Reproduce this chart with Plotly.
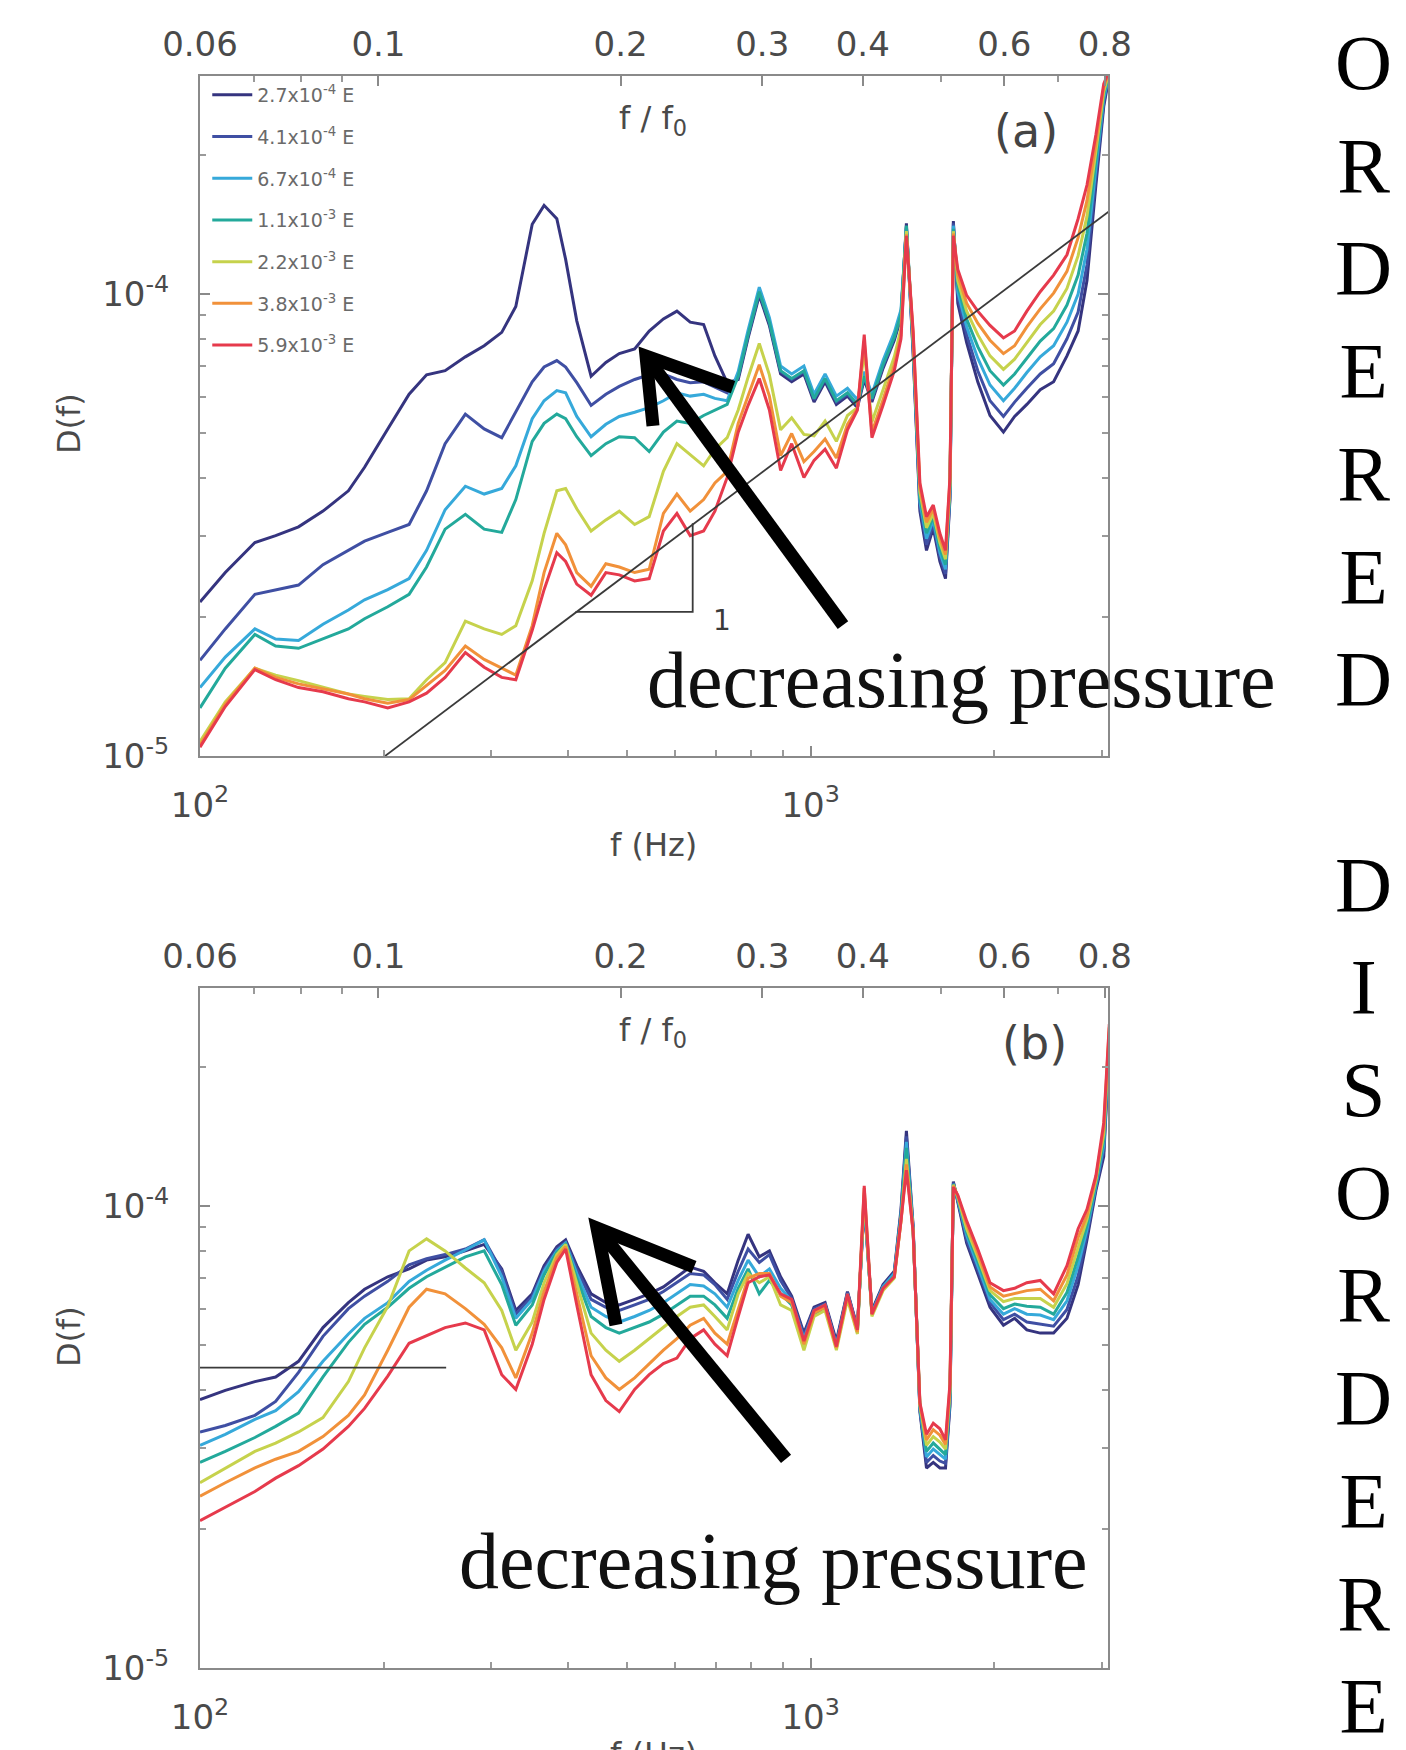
import math
import plotly.graph_objects as go

# ---------------- data ----------------
f_hz = [100, 110, 123, 133, 145, 159, 175, 186, 203, 220, 235, 252, 272, 292, 312, 329, 350, 366, 384, 397,
        414, 437, 462, 486, 515, 544, 574, 604, 635, 668, 697, 730, 761, 790, 824, 856, 893, 931, 975, 1013,
        1056, 1102, 1149, 1193, 1224, 1260, 1314, 1371, 1406, 1435, 1472, 1510, 1548, 1588, 1628, 1663, 1691, 1713, 1742, 1801,
        1878, 1967, 2069, 2158, 2260, 2377, 2500, 2629, 2742, 2835, 2932, 3020, 3084]

series_labels = ["2.7x10<sup>-4</sup> E", "4.1x10<sup>-4</sup> E", "6.7x10<sup>-4</sup> E", "1.1x10<sup>-3</sup> E",
                 "2.2x10<sup>-3</sup> E", "3.8x10<sup>-3</sup> E", "5.9x10<sup>-3</sup> E"]
series_colors = ["#35347f", "#3f4fa3", "#36a9da", "#23a99b", "#c6d24c", "#f1913a", "#e63a4c"]

# panel (a): log10 D(f)
logD_a_27e4 = [-4.667,-4.603,-4.538,-4.523,-4.504,-4.470,-4.426,-4.375,-4.292,-4.217,
               -4.175,-4.166,-4.136,-4.112,-4.083,-4.027,-3.849,-3.808,-3.837,-3.925,
               -4.058,-4.178,-4.148,-4.129,-4.119,-4.080,-4.054,-4.037,-4.061,-4.066,
               -4.134,-4.192,
               -4.185,-4.095,-4.003,-4.068,-4.173,-4.190,-4.173,-4.234,-4.190,-4.239,-4.221,-4.246,-4.185,-4.234,-4.161,-4.100,-4.051,-3.847,
               -4.129,-4.470,-4.555,-4.506,-4.579,-4.616,-4.445,-3.842,
               -4.020,-4.105,-4.190,-4.263,-4.299,-4.265,-4.239,-4.207,-4.190,-4.134,-4.080,-3.971,-3.764,-3.594,-3.526]
logD_a_41e4 = [-4.793,-4.725,-4.650,-4.640,-4.630,-4.586,-4.555,-4.535,-4.516,-4.499,
               -4.426,-4.324,-4.260,-4.292,-4.311,-4.256,-4.190,-4.158,-4.144,-4.158,
               -4.192,-4.241,-4.217,-4.200,-4.185,-4.175,-4.173,-4.185,-4.192,-4.190,
               -4.202,-4.214,
               -4.180,-4.090,-3.998,-4.063,-4.168,-4.185,-4.168,-4.229,-4.185,-4.234,-4.217,-4.241,-4.180,-4.229,-4.156,-4.095,-4.046,-3.854,
               -4.122,-4.460,-4.543,-4.499,-4.569,-4.606,-4.438,-3.847,
               -4.007,-4.088,-4.166,-4.231,-4.265,-4.234,-4.204,-4.173,-4.151,-4.097,-4.039,-3.937,-3.747,-3.586,-3.523]
logD_a_67e4 = [-4.852,-4.786,-4.725,-4.747,-4.750,-4.715,-4.684,-4.662,-4.640,-4.616,
               -4.555,-4.467,-4.416,-4.433,-4.421,-4.372,-4.270,-4.231,-4.209,-4.214,
               -4.265,-4.309,-4.282,-4.265,-4.256,-4.246,-4.231,-4.214,-4.221,-4.217,
               -4.226,-4.231,
               -4.168,-4.078,-3.985,-4.051,-4.156,-4.173,-4.156,-4.217,-4.173,-4.221,-4.204,-4.229,-4.168,-4.217,-4.144,-4.083,-4.034,-3.857,
               -4.112,-4.450,-4.530,-4.489,-4.560,-4.596,-4.428,-3.852,
               -3.995,-4.071,-4.139,-4.197,-4.231,-4.204,-4.170,-4.136,-4.112,-4.061,-4.000,-3.903,-3.728,-3.577,-3.523]
logD_a_11e3 = [-4.896,-4.810,-4.737,-4.762,-4.767,-4.747,-4.725,-4.703,-4.677,-4.650,
               -4.591,-4.509,-4.477,-4.509,-4.516,-4.445,-4.319,-4.280,-4.260,-4.270,
               -4.309,-4.350,-4.324,-4.309,-4.311,-4.341,-4.299,-4.275,-4.280,-4.263,
               -4.251,-4.239,
               -4.178,-4.088,-3.995,-4.061,-4.166,-4.183,-4.166,-4.226,-4.183,-4.231,-4.214,-4.239,-4.178,-4.226,-4.153,-4.093,-4.044,-3.852,
               -4.105,-4.440,-4.518,-4.482,-4.550,-4.586,-4.421,-3.859,
               -3.983,-4.054,-4.114,-4.166,-4.197,-4.173,-4.139,-4.102,-4.075,-4.024,-3.959,-3.869,-3.711,-3.569,-3.521]
logD_a_22e3 = [-4.969,-4.883,-4.810,-4.825,-4.837,-4.852,-4.866,-4.871,-4.878,-4.876,
               -4.835,-4.798,-4.708,-4.725,-4.737,-4.718,-4.621,-4.518,-4.426,-4.421,
               -4.465,-4.513,-4.489,-4.470,-4.499,-4.482,-4.384,-4.324,-4.348,-4.372,
               -4.336,-4.311,
               -4.251,-4.180,-4.107,-4.175,-4.294,-4.268,-4.304,-4.307,-4.275,-4.319,-4.263,-4.246,-4.124,-4.277,-4.207,-4.136,-4.075,-3.864,
               -4.097,-4.428,-4.506,-4.475,-4.538,-4.574,-4.414,-3.864,
               -3.971,-4.037,-4.088,-4.134,-4.163,-4.141,-4.105,-4.066,-4.037,-3.988,-3.917,-3.832,-3.691,-3.562,-3.518]
logD_a_38e3 = [-4.976,-4.888,-4.810,-4.830,-4.844,-4.854,-4.866,-4.876,-4.886,-4.878,
               -4.847,-4.815,-4.762,-4.791,-4.810,-4.825,-4.718,-4.603,-4.518,-4.543,
               -4.603,-4.633,-4.584,-4.591,-4.603,-4.596,-4.475,-4.433,-4.470,-4.445,
               -4.409,-4.384,
               -4.280,-4.219,-4.153,-4.221,-4.350,-4.302,-4.363,-4.341,-4.314,-4.355,-4.282,-4.248,-4.102,-4.299,-4.229,-4.153,-4.090,-3.871,
               -4.088,-4.419,-4.494,-4.465,-4.528,-4.564,-4.404,-3.869,
               -3.959,-4.020,-4.063,-4.100,-4.129,-4.112,-4.071,-4.032,-3.998,-3.951,-3.878,-3.798,-3.674,-3.552,-3.518]
logD_a_59e3 = [-4.981,-4.893,-4.813,-4.835,-4.852,-4.861,-4.876,-4.883,-4.896,-4.883,
               -4.864,-4.830,-4.776,-4.808,-4.830,-4.835,-4.728,-4.640,-4.560,-4.579,
               -4.628,-4.652,-4.603,-4.608,-4.621,-4.616,-4.513,-4.475,-4.523,-4.513,
               -4.470,-4.397,
               -4.299,-4.241,-4.183,-4.251,-4.382,-4.324,-4.397,-4.360,-4.336,-4.377,-4.294,-4.251,-4.088,-4.311,-4.241,-4.166,-4.097,-3.874,
               -4.080,-4.409,-4.482,-4.457,-4.518,-4.555,-4.397,-3.874,
               -3.947,-4.003,-4.037,-4.068,-4.095,-4.080,-4.037,-3.995,-3.959,-3.915,-3.837,-3.764,-3.655,-3.545,-3.516]

# panel (b): log10 D(f)
logD_b_27e4 = [-4.419,-4.399,-4.380,-4.370,-4.336,-4.263,-4.209,-4.180,-4.153,-4.136,
               -4.117,-4.110,-4.097,-4.083,-4.136,-4.226,-4.190,-4.129,-4.088,-4.073,
               -4.129,-4.190,-4.209,-4.214,-4.202,-4.190,-4.175,-4.153,-4.132,-4.141,
               -4.166,-4.190,-4.117,-4.061,
               -4.110,-4.097,-4.153,-4.195,-4.275,-4.219,-4.209,-4.292,-4.185,-4.263,-3.995,-4.226,-4.170,-4.141,-4.007,-3.837,-4.044,-4.445,
               -4.567,-4.555,-4.567,-4.567,-4.433,-3.947,-3.990,
               -4.080,-4.146,-4.219,-4.258,-4.243,-4.268,-4.275,-4.275,-4.243,-4.170,-4.073,-3.966,-3.893,-3.655]
logD_b_41e4 = [-4.489,-4.475,-4.453,-4.423,-4.360,-4.282,-4.222,-4.195,-4.163,-4.127,
               -4.114,-4.105,-4.093,-4.073,-4.141,-4.234,-4.195,-4.136,-4.093,-4.078,
               -4.136,-4.202,-4.219,-4.226,-4.214,-4.202,-4.185,-4.166,-4.146,-4.149,
               -4.170,-4.202,-4.141,-4.093,
               -4.122,-4.105,-4.161,-4.200,-4.280,-4.222,-4.212,-4.297,-4.187,-4.265,-3.990,-4.229,-4.173,-4.144,-4.015,-3.849,-4.049,-4.441,
               -4.555,-4.540,-4.552,-4.557,-4.426,-3.949,-3.988,
               -4.073,-4.136,-4.209,-4.246,-4.234,-4.251,-4.256,-4.260,-4.224,-4.151,-4.063,-3.961,-3.881,-3.647]
logD_b_67e4 = [-4.518,-4.494,-4.462,-4.443,-4.402,-4.336,-4.277,-4.243,-4.209,-4.163,
               -4.139,-4.117,-4.095,-4.073,-4.153,-4.243,-4.202,-4.141,-4.097,-4.080,
               -4.146,-4.219,-4.239,-4.251,-4.239,-4.226,-4.209,-4.190,-4.170,-4.173,
               -4.190,-4.219,-4.161,-4.117,
               -4.153,-4.136,-4.178,-4.205,-4.287,-4.226,-4.214,-4.302,-4.190,-4.268,-3.986,-4.231,-4.175,-4.146,-4.020,-3.861,-4.051,-4.438,
               -4.543,-4.526,-4.538,-4.548,-4.416,-3.952,-3.986,
               -4.063,-4.129,-4.202,-4.234,-4.222,-4.234,-4.236,-4.246,-4.205,-4.129,-4.051,-3.956,-3.869,-3.638]
logD_b_11e3 = [-4.555,-4.531,-4.501,-4.477,-4.448,-4.370,-4.295,-4.256,-4.219,-4.178,
               -4.153,-4.132,-4.110,-4.097,-4.170,-4.258,-4.214,-4.149,-4.100,-4.083,
               -4.156,-4.239,-4.263,-4.275,-4.263,-4.251,-4.234,-4.214,-4.195,-4.195,
               -4.214,-4.243,-4.178,-4.136,
               -4.190,-4.161,-4.190,-4.214,-4.299,-4.234,-4.219,-4.307,-4.195,-4.273,-3.976,-4.234,-4.178,-4.151,-4.024,-3.874,-4.054,-4.433,
               -4.531,-4.513,-4.526,-4.538,-4.409,-3.952,-3.983,
               -4.056,-4.119,-4.192,-4.222,-4.212,-4.217,-4.219,-4.234,-4.187,-4.110,-4.041,-3.952,-3.857,-3.630]
logD_b_22e3 = [-4.599,-4.567,-4.531,-4.513,-4.489,-4.458,-4.380,-4.307,-4.217,-4.097,
               -4.071,-4.097,-4.134,-4.166,-4.226,-4.312,-4.251,-4.166,-4.105,-4.083,
               -4.166,-4.275,-4.312,-4.336,-4.312,-4.287,-4.263,-4.239,-4.219,-4.214,
               -4.239,-4.268,-4.190,-4.146,
               -4.166,-4.153,-4.214,-4.226,-4.312,-4.239,-4.226,-4.312,-4.202,-4.277,-3.971,-4.239,-4.183,-4.156,-4.032,-3.898,-4.056,-4.431,
               -4.518,-4.499,-4.511,-4.526,-4.402,-3.954,-3.981,
               -4.049,-4.110,-4.183,-4.207,-4.200,-4.200,-4.200,-4.219,-4.168,-4.090,-4.029,-3.944,-3.844,-3.623]
logD_b_38e3 = [-4.628,-4.599,-4.567,-4.548,-4.531,-4.499,-4.453,-4.409,-4.312,-4.219,
               -4.180,-4.190,-4.222,-4.256,-4.307,-4.372,-4.275,-4.185,-4.112,-4.088,
               -4.190,-4.324,-4.372,-4.397,-4.372,-4.341,-4.312,-4.287,-4.258,-4.243,
               -4.275,-4.299,-4.226,-4.156,
               -4.146,-4.146,-4.195,-4.209,-4.299,-4.231,-4.219,-4.307,-4.195,-4.273,-3.961,-4.234,-4.180,-4.153,-4.032,-3.910,-4.056,-4.428,
               -4.506,-4.484,-4.496,-4.516,-4.392,-3.956,-3.978,
               -4.039,-4.102,-4.175,-4.195,-4.190,-4.183,-4.180,-4.205,-4.149,-4.068,-4.020,-3.939,-3.832,-3.613]
logD_b_59e3 = [-4.681,-4.652,-4.618,-4.589,-4.562,-4.526,-4.477,-4.438,-4.368,-4.297,
               -4.280,-4.263,-4.253,-4.268,-4.365,-4.397,-4.299,-4.202,-4.122,-4.093,
               -4.214,-4.365,-4.421,-4.445,-4.397,-4.365,-4.341,-4.329,-4.287,-4.268,
               -4.299,-4.324,-4.239,-4.166,
               -4.153,-4.149,-4.190,-4.202,-4.292,-4.226,-4.214,-4.304,-4.190,-4.268,-3.956,-4.234,-4.178,-4.153,-4.032,-3.922,-4.056,-4.426,
               -4.494,-4.470,-4.482,-4.506,-4.385,-3.959,-3.976,
               -4.032,-4.093,-4.166,-4.183,-4.178,-4.166,-4.161,-4.190,-4.129,-4.049,-4.007,-3.934,-3.820,-3.606]

# guide lines
slope_line_f = [201, 3080]
slope_line_D = [1.0e-5, 1.51e-4]
slope_triangle_f = [412, 641, 641]
slope_triangle_D = [2.05e-5, 2.05e-5, 3.19e-5]
plateau_line_f = [100, 253]
plateau_line_D = [4.47e-5, 4.47e-5]

top_ticks = [0.06, 0.1, 0.2, 0.3, 0.4, 0.6, 0.8]
top_ticktext = ["0.06", "0.1", "0.2", "0.3", "0.4", "0.6", "0.8"]
top_minor = [0.07, 0.08, 0.09, 0.5, 0.7]
bottom_ticks = [100, 1000]
bottom_ticktext = ["10<sup>2</sup>", "10<sup>3</sup>"]
y_ticks = [1e-5, 1e-4]
y_ticktext = ["10<sup>-5</sup>", "10<sup>-4</sup>"]

panel_a = [logD_a_27e4, logD_a_41e4, logD_a_67e4, logD_a_11e3, logD_a_22e3, logD_a_38e3, logD_a_59e3]
panel_b = [logD_b_27e4, logD_b_41e4, logD_b_67e4, logD_b_11e3, logD_b_22e3, logD_b_38e3, logD_b_59e3]

# ---------------- figure ----------------
fig = go.Figure()

for lab, col, vals in zip(series_labels, series_colors, panel_a):
    fig.add_trace(go.Scatter(x=f_hz, y=[10 ** v for v in vals], mode="lines", name=lab,
                             legendgroup=lab, line=dict(color=col, width=3), xaxis="x", yaxis="y"))
for lab, col, vals in zip(series_labels, series_colors, panel_b):
    fig.add_trace(go.Scatter(x=f_hz, y=[10 ** v for v in vals], mode="lines", name=lab,
                             legendgroup=lab, showlegend=False, line=dict(color=col, width=3),
                             xaxis="x2", yaxis="y2"))

guide = dict(color="#3a3a3a", width=1.8)
fig.add_trace(go.Scatter(x=slope_line_f, y=slope_line_D, mode="lines", line=guide, showlegend=False,
                         xaxis="x", yaxis="y", hoverinfo="skip"))
fig.add_trace(go.Scatter(x=slope_triangle_f, y=slope_triangle_D, mode="lines", line=guide, showlegend=False,
                         xaxis="x", yaxis="y", hoverinfo="skip"))
fig.add_trace(go.Scatter(x=plateau_line_f, y=plateau_line_D, mode="lines", line=guide, showlegend=False,
                         xaxis="x2", yaxis="y2", hoverinfo="skip"))

# empty traces that only activate the top f/f0 axes (no visible marks)
for xa, ya in (("x3", "y"), ("x4", "y2")):
    fig.add_trace(go.Scatter(x=top_ticks, y=[None] * len(top_ticks), mode="lines", showlegend=False,
                             hoverinfo="skip", xaxis=xa, yaxis=ya))

tick_font = dict(family="DejaVu Sans", size=34, color="#4a4a4a")
axis_common = dict(showline=True, linecolor="#8a8a8a", linewidth=2, showgrid=False, zeroline=False,
                   ticks="inside", ticklen=10, tickcolor="#8a8a8a", tickwidth=1.5, tickfont=tick_font)
minor_x = dict(tickvals=[200, 300, 400, 500, 600, 700, 800, 900, 2000, 3000], ticks="inside",
               ticklen=6, tickcolor="#9a9a9a", showgrid=False)
minor_top = dict(tickvals=top_minor, ticks="inside", ticklen=6, tickcolor="#9a9a9a", showgrid=False)
minor_y = dict(tickvals=[2e-5, 3e-5, 4e-5, 5e-5, 6e-5, 7e-5, 8e-5, 9e-5, 2e-4], ticks="inside",
               ticklen=6, tickcolor="#9a9a9a", showgrid=False)

x_range = [2, 3.487]
y_range = [-5, -3.528]
top_range = [math.log10(0.06), -0.093]

fig.update_layout(
    width=1406, height=1750,
    margin=dict(l=192, r=306, t=68, b=90),
    paper_bgcolor="white", plot_bgcolor="white",
    xaxis=dict(domain=[0, 1], anchor="y", type="log", range=x_range, tickvals=bottom_ticks,
               ticktext=bottom_ticktext, minor=minor_x, ticklabelstandoff=18, **axis_common),
    yaxis=dict(domain=[0.5729, 1], anchor="x", type="log", range=y_range, tickvals=y_ticks,
               ticktext=y_ticktext, minor=minor_y, mirror="ticks", ticklabelstandoff=22, **axis_common),
    xaxis3=dict(overlaying="x", anchor="y", side="top", type="log", range=top_range,
                tickvals=top_ticks, ticktext=top_ticktext, minor=minor_top, ticklabelstandoff=4,
                **axis_common),
    xaxis2=dict(domain=[0, 1], anchor="y2", type="log", range=x_range, tickvals=bottom_ticks,
                ticktext=bottom_ticktext, minor=minor_x, ticklabelstandoff=18, **axis_common),
    yaxis2=dict(domain=[0, 0.4271], anchor="x2", type="log", range=y_range, tickvals=y_ticks,
                ticktext=y_ticktext, minor=minor_y, mirror="ticks", ticklabelstandoff=22, **axis_common),
    xaxis4=dict(overlaying="x2", anchor="y2", side="top", type="log", range=top_range,
                tickvals=top_ticks, ticktext=top_ticktext, minor=minor_top, ticklabelstandoff=4,
                **axis_common),
    legend=dict(x=0.008, y=1.0, xanchor="left", yanchor="top", bgcolor="rgba(0,0,0,0)",
                font=dict(family="DejaVu Sans", size=19, color="#6a6a6a"), tracegroupgap=14,
                itemwidth=40),
    showlegend=True,
)

label_font = dict(family="DejaVu Sans", size=32, color="#4a4a4a")
serif_big = dict(family="Liberation Serif", size=80, color="#111111")
annotations = [
    dict(text="f / f<sub>0</sub>", x=0.4989, y=0.9724, font=label_font),
    dict(text="f (Hz)", x=0.4989, y=0.517, font=label_font),
    dict(text="f / f<sub>0</sub>", x=0.4989, y=0.3995, font=label_font),
    dict(text="f (Hz)", x=0.4989, y=-0.054, font=label_font),
    dict(text="D(f)", x=-0.1443, y=0.782, textangle=-90, font=label_font),
    dict(text="D(f)", x=-0.1443, y=0.2085, textangle=-90, font=label_font),
    dict(text="(a)", x=0.9097, y=0.9655, font=dict(family="DejaVu Sans", size=46, color="#444444")),
    dict(text="(b)", x=0.9196, y=0.3925, font=dict(family="DejaVu Sans", size=46, color="#444444")),
    dict(text="1", x=0.575, y=0.658, font=dict(family="DejaVu Sans", size=28, color="#3a3a3a")),
    dict(text="decreasing pressure", x=0.839, y=0.6206, font=serif_big),
    dict(text="decreasing pressure", x=0.632, y=0.0672, font=serif_big),
    dict(text="O<br>R<br>D<br>E<br>R<br>E<br>D<br> <br>D<br>I<br>S<br>O<br>R<br>D<br>E<br>R<br>E",
         x=1.2819, y=0.4925, font=dict(family="Liberation Serif", size=79, color="#000000")),
]
for a in annotations:
    a.update(xref="paper", yref="paper", showarrow=False, xanchor="center", yanchor="middle")
    fig.add_annotation(**a)

# thick black arrows (shaft + open head), in paper coordinates
arrow_style = dict(color="black", width=13)
arrows = [
    ((0.7081, 0.6551), (0.4912, 0.8241), (0.4989, 0.7802), (0.5870, 0.8046)),
    ((0.6454, 0.1313), (0.4372, 0.2764), (0.4581, 0.2155), (0.5441, 0.2519)),
]
for tail, head, w1, w2 in arrows:
    fig.add_shape(type="line", xref="paper", yref="paper", x0=tail[0], y0=tail[1], x1=head[0], y1=head[1],
                  line=arrow_style)
    fig.add_shape(type="path", xref="paper", yref="paper",
                  path=f"M {w1[0]} {w1[1]} L {head[0]} {head[1]} L {w2[0]} {w2[1]}", line=arrow_style)

fig.write_html("out.html")
